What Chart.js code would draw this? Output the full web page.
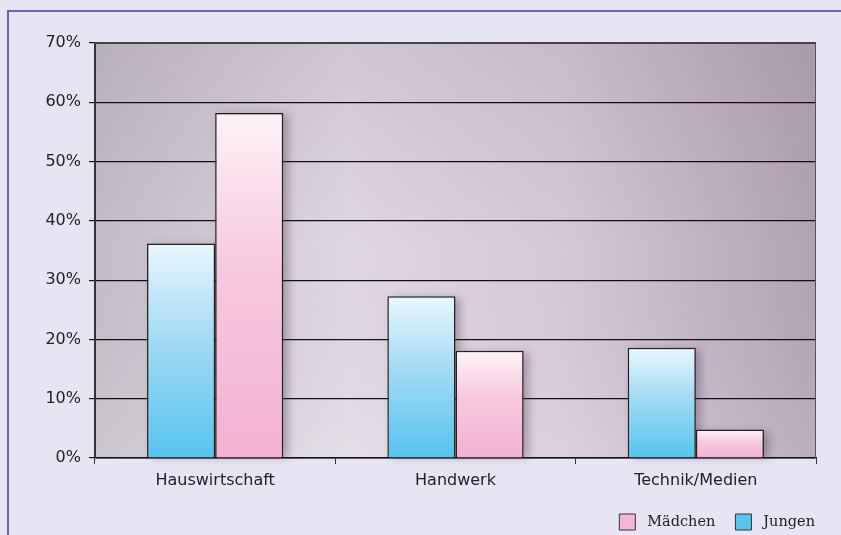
<!DOCTYPE html>
<html>
<head>
<meta charset="utf-8">
<script src="https://cdn.jsdelivr.net/npm/chart.js@4"></script>
<style>
  html, body { margin: 0; padding: 0; background: #e7e5f4; }
  #wrap { position: relative; width: 841px; height: 535px; }
</style>
</head>
<body>
<div id="wrap"><canvas id="myChart" width="841" height="535"></canvas></div>
<script>
// Kategorien und Werte (in Prozent)
const categories = ["Hauswirtschaft", "Handwerk", "Technik/Medien"];
const jungen = [36.2, 27.3, 18.6];
const maedchen = [58.2, 18.1, 4.8];
const yTicks = [0, 10, 20, 30, 40, 50, 60, 70];

// Verlauf pro Balken: oben hell, unten kräftig
const barGradient = (colors) => (context) => {
    const chart = context.chart;
    const area = chart.chartArea;
    if (!area || context.raw === undefined) return colors[2];
    const top = chart.scales.y.getPixelForValue(context.raw);
    const g = chart.ctx.createLinearGradient(0, top, 0, area.bottom);
    g.addColorStop(0, colors[0]);
    g.addColorStop(0.45, colors[1]);
    g.addColorStop(1, colors[2]);
    return g;
};

// Hintergrund der Zeichenfläche + Rahmen der Seite
const backgroundPlugin = {
    id: "plotBackground",
    beforeDraw(chart) {
        const c = chart.ctx;
        const a = chart.chartArea;
        c.save();
        // Rahmen oben und links
        c.strokeStyle = "#6a62b4";
        c.lineWidth = 2;
        c.beginPath();
        c.moveTo(8, 535);
        c.lineTo(8, 11);
        c.lineTo(841, 11);
        c.stroke();

        let g = c.createLinearGradient(a.left, 0, a.right, 0);
        g.addColorStop(0, "#c6c0c9");
        g.addColorStop(0.35, "#e2dbe5");
        g.addColorStop(0.65, "#d9cbdc");
        g.addColorStop(1, "#b4a5b6");
        c.fillStyle = g;
        c.fillRect(a.left, a.top, a.right - a.left, a.bottom - a.top);
        g = c.createLinearGradient(0, a.top, 0, a.bottom);
        g.addColorStop(0, "rgba(110,90,115,0.16)");
        g.addColorStop(0.5, "rgba(110,90,115,0.03)");
        g.addColorStop(1, "rgba(255,255,255,0.1)");
        c.fillStyle = g;
        c.fillRect(a.left, a.top, a.right - a.left, a.bottom - a.top);
        c.restore();
    },
    beforeDatasetsDraw(chart) {
        // weicher Schatten rechts neben den Balken
        const c = chart.ctx;
        c.save();
        c.fillStyle = "rgba(70,45,70,0.35)";
        c.filter = "blur(4px)";
        chart.data.datasets.forEach((ds, i) => {
            chart.getDatasetMeta(i).data.forEach(bar => {
                const p = bar.getProps(["x", "y", "width", "base"], true);
                c.fillRect(p.x - p.width / 2 + 5, p.y + 2, p.width, p.base - p.y - 2);
            });
        });
        c.restore();
    },
    afterDatasetsDraw(chart) {
        const c = chart.ctx;
        const a = chart.chartArea;
        c.save();
        c.strokeStyle = "#444";
        c.lineWidth = 2;
        c.beginPath();
        c.moveTo(a.left, a.top);
        c.lineTo(a.right, a.top);
        c.stroke();
        c.strokeStyle = "#555";
        c.lineWidth = 1;
        c.beginPath();
        c.moveTo(a.right - 0.5, a.top);
        c.lineTo(a.right - 0.5, a.bottom);
        c.stroke();
        c.restore();
    }
};

let ctx = document.getElementById("myChart").getContext("2d");
let chart = new Chart(ctx, {
    type: "bar",
    data: {
        labels: categories,
        datasets: [{
            label: "Jungen",
            data: jungen,
            backgroundColor: barGradient(["#e9f7fd", "#a3daf4", "#55c4ef"]),
            legendColor: "#58c5ef",
            borderColor: "#222",
            borderWidth: 1.5,
            borderSkipped: "bottom"
        }, {
            label: "Mädchen",
            data: maedchen,
            backgroundColor: barGradient(["#fdf2f7", "#f7c9de", "#f3b1d1"]),
            legendColor: "#f5b4d3",
            borderColor: "#222",
            borderWidth: 1.5,
            borderSkipped: "bottom"
        }]
    },
    options: {
        responsive: false,
        animation: false,
        layout: { padding: { top: 43, right: 25, left: 0, bottom: -5 } },
        datasets: { bar: { categoryPercentage: 0.567, barPercentage: 1 } },
        plugins: {
            tooltip: { enabled: false },
            legend: {
                position: "bottom",
                align: "end",
                reverse: true,
                labels: {
                    boxWidth: 16,
                    boxHeight: 16,
                    padding: 1,
                    color: "#222",
                    font: { family: "DejaVu Serif", size: 14.5 },
                    generateLabels(chart) {
                        const items = Chart.defaults.plugins.legend.labels.generateLabels(chart);
                        items.forEach(it => {
                            it.fillStyle = chart.data.datasets[it.datasetIndex].legendColor;
                            it.strokeStyle = "#333";
                            it.lineWidth = 1;
                            // etwas Luft vor dem Text und zwischen den Einträgen
                            it.text = " " + it.text + (it.datasetIndex === 1 ? "\u2003 " : "");
                        });
                        return items;
                    }
                }
            }
        },
        scales: {
            x: {
                grid: { display: true, drawOnChartArea: false, tickLength: 6, color: "#333", offset: true },
                border: { color: "#111", width: 1.5 },
                ticks: { color: "#222", padding: 7, font: { family: "DejaVu Sans", size: 16 } },
                afterFit(scale) { scale.height = 55; }
            },
            y: {
                min: 0,
                max: 70,
                afterBuildTicks(scale) { scale.ticks = yTicks.map(v => ({ value: v })); },
                grid: { color: "#111", lineWidth: 1.2, tickLength: 6, drawTicks: true },
                border: { color: "#333", width: 2 },
                ticks: {
                    color: "#222",
                    padding: 8,
                    font: { family: "DejaVu Sans", size: 16 },
                    callback: (v) => v + "%"
                },
                afterFit(scale) { scale.width = 95; }
            }
        }
    },
    plugins: [backgroundPlugin]
});
</script>
</body>
</html>
